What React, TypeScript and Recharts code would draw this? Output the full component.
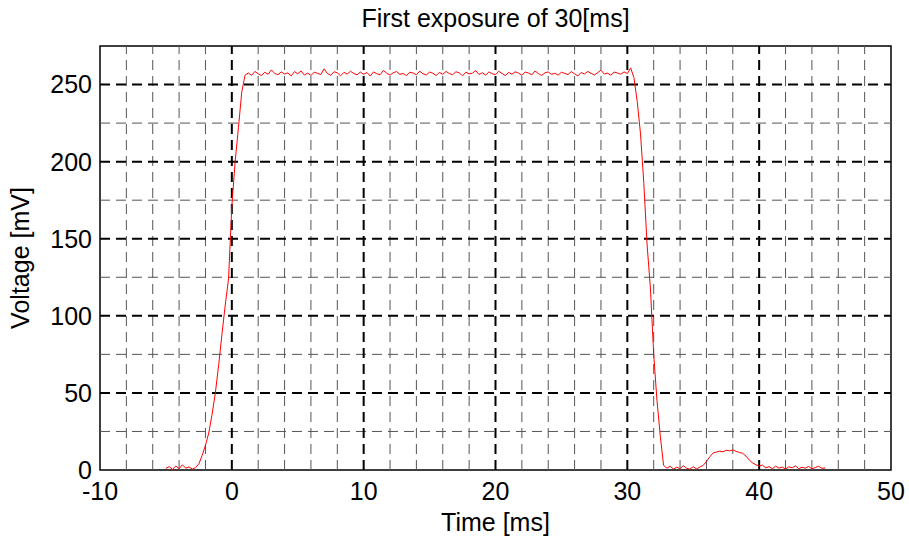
import React from 'react';
import { LineChart, Line, XAxis, YAxis, ReferenceLine, ReferenceArea } from 'recharts';

// oscilloscope trace, sampled every 0.25 ms
const sampleStep = 0.25;

const preTriggerStart = -5;
const preTrigger = [1.0, 2.2, 0.4, 2.6, 0.8, 3.4, 1.2, 2.0, 0.6, 1.6];

const risingStart = -2.5;
const rising = [4.0, 9.5, 16, 24, 36, 50, 68, 88, 107, 124, 171, 200, 222, 245, 256];

const plateauStart = 1.25;
const plateau = [
  257.5, 256, 258.5, 257, 255.8, 258, 256.6, 259.5, 257.2, 256.4, 258.2, 256.8, 257.6, 255.6, 258.4,
  257.0, 258.8, 256.2, 257.4, 255.9, 258.0, 257.3, 256.5, 260.2, 257.1, 256.0, 258.3, 257.6, 255.7, 257.9, 256.8, 258.6, 257.2, 256.3, 258.1,
  256.7, 257.8, 255.5, 258.2, 257.0, 256.4, 259.1, 257.3, 256.1, 257.7, 258.4, 256.6, 257.2, 255.8, 258.0, 257.5, 256.3, 258.7, 257.0, 256.2,
  258.1, 257.3, 255.9, 257.8, 256.6, 258.5, 257.1, 256.4, 258.3, 257.6, 255.7, 258.0, 256.9, 257.4, 259.0, 256.5, 257.7, 256.1, 258.2, 257.0,
  256.4, 258.6, 257.2, 255.8, 257.9, 256.7, 258.3, 257.4, 256.0, 258.1, 257.5, 256.3, 258.8, 257.1, 255.9, 257.6, 258.2, 256.6, 257.3, 256.1,
  258.0, 257.2, 256.5, 258.4, 257.0, 255.6, 257.8, 256.9, 258.5, 257.3, 256.2, 257.7, 259.3, 256.8, 257.4, 256.0, 258.1, 257.5, 256.7, 258.2,
  257.1, 260.8,
];

const fallingStart = 30.5;
const falling = [254.5, 239, 218, 186, 146, 118, 75, 45, 22, 3];

const tailStart = 33;
const tail = [
  1.2, 2.4, 0.6, 1.8, 0.9, 2.8, 1.1, 0.5,
  2.2, 0.7, 1.9, 3.0, 5.5, 8.5, 11.0, 11.6, 12.2, 11.8, 12.8, 12.4, 13.0, 12.1, 11.4, 10.8, 9.0, 6.5, 4.6, 3.4,
  2.6, 3.2, 1.4, 2.2, 0.8, 2.5, 1.2, 1.9, 0.6, 2.1, 1.4, 2.7, 0.9, 1.8, 1.2, 2.3, 0.7, 1.6, 2.4, 1.1,
  1.3,
];

const xTicks = [-10, 0, 10, 20, 30, 40, 50];
const xMinor = [-8, -6, -4, -2, 2, 4, 6, 8, 12, 14, 16, 18, 22, 24, 26, 28, 32, 34, 36, 38, 42, 44, 46, 48];
const xMajorGrid = [0, 10, 20, 30, 40];
const yTicks = [0, 50, 100, 150, 200, 250];
const yMinor = [25, 75, 125, 175, 225];
const yMajorGrid = [50, 100, 150, 200, 250];

const toPoints = (start: number, values: number[]) =>
  values.map((v, i) => ({ t: start + i * sampleStep, v }));

const data = [
  ...toPoints(preTriggerStart, preTrigger),
  ...toPoints(risingStart, rising),
  ...toPoints(plateauStart, plateau),
  ...toPoints(fallingStart, falling),
  ...toPoints(tailStart, tail),
];

const font = '"Liberation Sans", Arial, Helvetica, sans-serif';
const dash = '10 6';

export default function App() {
  return (
    <div style={{ position: 'absolute', left: 0, top: 0, width: 909, height: 542, background: '#fff', fontFamily: font }}>
      <div
        style={{
          position: 'absolute', left: 100, width: 791, top: 6, textAlign: 'center',
          fontSize: 25, lineHeight: '25px', color: '#000',
        }}
      >
        First exposure of 30[ms]
      </div>
      <LineChart width={909} height={542} data={data} margin={{ top: 46, right: 18, left: 20, bottom: 0 }}>
        <XAxis
          dataKey="t"
          type="number"
          domain={[-10, 50]}
          ticks={xTicks}
          tickLine={false}
          axisLine={false}
          tickSize={0}
          tickMargin={12}
          height={72}
          tick={{ fill: '#000', fontSize: 25, fontFamily: font }}
          label={{ value: 'Time [ms]', position: 'insideBottom', offset: 11, fill: '#000', fontSize: 25, fontFamily: font }}
        />
        <YAxis
          type="number"
          domain={[0, 275]}
          ticks={yTicks}
          allowDataOverflow
          tickLine={false}
          axisLine={false}
          tickSize={0}
          tickMargin={8}
          width={80}
          tick={{ fill: '#000', fontSize: 25, fontFamily: font }}
          label={{
            value: 'Voltage [mV]', angle: -90, position: 'insideLeft', offset: 0,
            textAnchor: 'middle', fill: '#000', fontSize: 25, fontFamily: font,
          }}
        />
        {xMinor.map((x) => (
          <ReferenceLine key={'xm' + x} x={x} stroke="#555" strokeWidth={1} strokeDasharray={dash} />
        ))}
        {yMinor.map((y) => (
          <ReferenceLine key={'ym' + y} y={y} stroke="#555" strokeWidth={1} strokeDasharray={dash} />
        ))}
        {xMajorGrid.map((x) => (
          <ReferenceLine key={'xM' + x} x={x} stroke="#000" strokeWidth={2} strokeDasharray={dash} />
        ))}
        {yMajorGrid.map((y) => (
          <ReferenceLine key={'yM' + y} y={y} stroke="#000" strokeWidth={2} strokeDasharray={dash} />
        ))}
        <ReferenceArea x1={-10} x2={50} y1={0} y2={275} fill="none" stroke="#000" strokeWidth={1.5} fillOpacity={0} />
        <Line
          dataKey="v"
          type="linear"
          stroke="#ff0000"
          strokeWidth={1}
          dot={false}
          isAnimationActive={false}
        />
      </LineChart>
    </div>
  );
}
